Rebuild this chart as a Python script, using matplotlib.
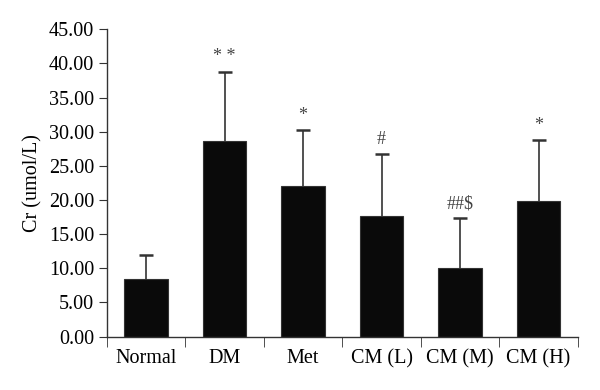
import numpy as np
import matplotlib
matplotlib.use("Agg")
import matplotlib.pyplot as plt

groups = ["Normal", "DM", "Met", "CM (L)", "CM (M)", "CM (H)"]
cr_mean = [8.5, 28.6, 22.0, 17.6, 10.0, 19.8]
cr_sd = [3.4, 10.2, 8.2, 9.1, 7.3, 9.0]
marks = ["", "* *", "*", "#", "##$", "*"]

plt.rcParams['font.family'] = ['Liberation Serif', 'DejaVu Serif']
axis_col = '#333333'

fig = plt.figure(figsize=(6, 3.9), dpi=100)
ax = fig.add_axes([0.178, 0.137, 0.785, 0.788])

x = np.arange(len(groups))
top = np.array(cr_mean) + np.array(cr_sd)

# upper error bars only: stem + cap
ax.vlines(x, cr_mean, top, color=axis_col, linewidth=1.2, zorder=1)
ax.plot(x, top, linestyle='none', marker='_', markersize=10, markeredgewidth=1.8,
        color=axis_col, zorder=1)
ax.bar(x, cr_mean, width=0.55, color='#0a0a0a', edgecolor='#333333', linewidth=0.8, zorder=2)

for xi, t, lab in zip(x, top, marks):
    if lab:
        ax.text(xi, t + 0.9, lab, ha='center', va='bottom', fontsize=13, color='#444444')

ax.set_xlim(-0.5, len(groups) - 0.5)
ax.set_ylim(0, 45)
ax.set_yticks(np.arange(0, 46, 5))
ax.set_yticklabels(["%.2f" % v for v in np.arange(0, 46, 5)], fontsize=14.5)
ax.set_xticks(x)
ax.set_xticklabels(groups, fontsize=14.5)
ax.set_xticks(np.arange(-0.5, len(groups), 1), minor=True)
ax.tick_params(axis='x', which='major', length=0, pad=9)
ax.tick_params(axis='x', which='minor', length=7, color=axis_col)
ax.tick_params(axis='y', length=6, color=axis_col, pad=3)
ax.set_ylabel("Cr (umol/L)", fontsize=14.5, labelpad=5)

for side in ['top', 'right']:
    ax.spines[side].set_visible(False)
for side in ['left', 'bottom']:
    ax.spines[side].set_color(axis_col)
    ax.spines[side].set_linewidth(1.0)

fig.savefig("out.png", dpi=100)
